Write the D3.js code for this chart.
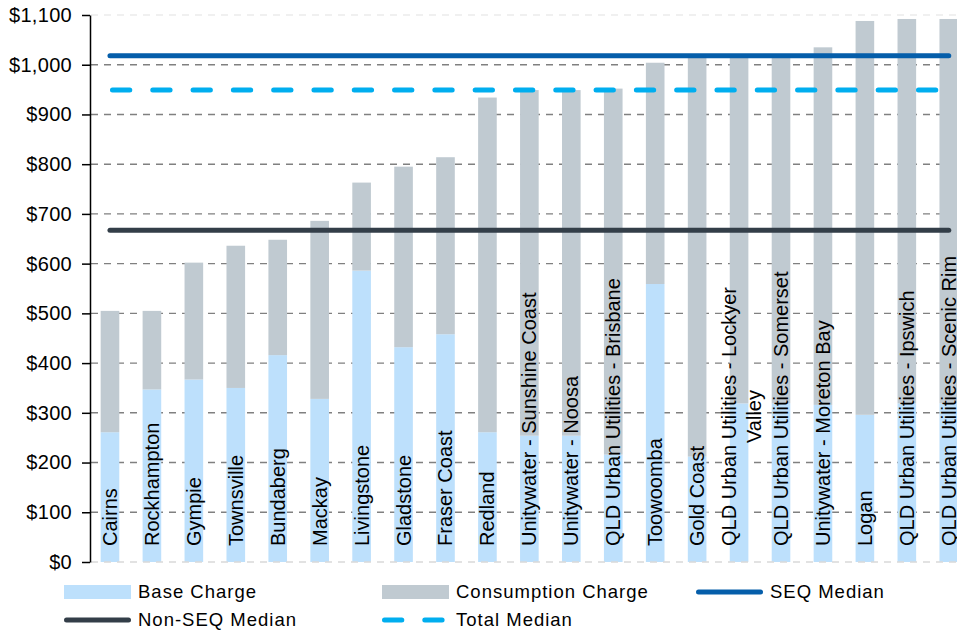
<!DOCTYPE html>
<html>
<head>
<meta charset="utf-8">
<title>Water charges by council</title>
<script src="https://d3js.org/d3.v7.min.js"></script>
<style>
  body { margin: 0; background: #fff; }
  svg { display: block; font-family: "Liberation Sans", Arial, sans-serif; }
</style>
</head>
<body>
<svg width="957" height="634"></svg>
<script>
// categories (a "\n" marks where the label wraps)
const councils = ['Cairns', 'Rockhampton', 'Gympie', 'Townsville', 'Bundaberg', 'Mackay',
  'Livingstone', 'Gladstone', 'Fraser Coast', 'Redland', 'Unitywater - Sunshine Coast',
  'Unitywater - Noosa', 'QLD Urban Utilities - Brisbane', 'Toowoomba', 'Gold Coast',
  'QLD Urban Utilities - Lockyer\nValley', 'QLD Urban Utilities - Somerset',
  'Unitywater - Moreton Bay', 'Logan', 'QLD Urban Utilities - Ipswich',
  'QLD Urban Utilities - Scenic Rim'];

// $ per year
const baseCharge = [261, 347, 367, 350, 416, 328, 586, 432, 458, 261, 254, 254, 216, 559, 212,
  319, 319, 316, 296, 319, 319];
const consumptionCharge = [244, 158, 235, 286, 232, 358, 177, 363, 356, 673, 695, 695, 736, 445,
  804, 699, 699, 719, 792, 773, 773];

const seqMedian = 1018;
const nonSeqMedian = 667;
const totalMedian = 949;

const yTicks = [0, 100, 200, 300, 400, 500, 600, 700, 800, 900, 1000, 1100];

const colors = {
  base: '#bde0fc',
  cons: '#c0cad1',
  seq: '#055eaa',
  nonSeq: '#333e48',
  total: '#00aeef'
};

const svg = d3.select('svg');

// plot area (the last band runs past the right edge, as in the original)
const left = 89, step = 41.94;
const x = d3.scaleBand()
  .domain(councils)
  .range([left, left + step * councils.length])
  .paddingInner(0.556)
  .paddingOuter(0.278);

const y = d3.scaleLinear()
  .domain([0, 1100])
  .range([562, 15]);

// gridlines
svg.append('g')
  .selectAll('line')
  .data(yTicks.filter(t => t > 0))
  .join('line')
  .attr('x1', 91).attr('x2', 957)
  .attr('y1', d => y(d)).attr('y2', d => y(d))
  .attr('stroke', d => d === 1100 ? '#ebebeb' : '#808080')
  .attr('stroke-width', 1.4)
  .attr('stroke-dasharray', '7 6');

// stacked bars
const rows = councils.map((c, i) => ({ c, base: baseCharge[i], cons: consumptionCharge[i] }));

const bars = svg.append('g');
bars.selectAll('rect.base').data(rows)
  .join('rect').attr('class', 'base')
  .attr('x', d => x(d.c)).attr('width', x.bandwidth())
  .attr('y', d => y(d.base)).attr('height', d => y(0) - y(d.base))
  .attr('fill', colors.base);
bars.selectAll('rect.cons').data(rows)
  .join('rect').attr('class', 'cons')
  .attr('x', d => x(d.c)).attr('width', x.bandwidth())
  .attr('y', d => y(d.base + d.cons)).attr('height', d => y(d.base) - y(d.base + d.cons))
  .attr('fill', colors.cons);

// light baseline at $0
svg.append('line')
  .attr('x1', 91).attr('x2', 957)
  .attr('y1', y(0)).attr('y2', y(0))
  .attr('stroke', '#d9d9d9').attr('stroke-width', 1.5)
  .attr('stroke-dasharray', '7 6');

// category labels, rotated, sitting inside the bars
const labelG = svg.append('g')
  .attr('font-size', 20)
  .attr('fill', '#000');

councils.forEach(c => {
  const lines = c.split('\n');
  const cx = x(c) + x.bandwidth() / 2;
  const lineH = 25;
  let firstLen = 0;
  lines.forEach((ln, i) => {
    const off = (i - (lines.length - 1) / 2) * lineH + (lines.length > 1 ? 2 : 0);
    const t = labelG.append('text')
      .attr('transform', `translate(${cx + off + 7},546) rotate(-90)`)
      .text(ln);
    if (i === 0) {
      t.attr('text-anchor', 'start');
      firstLen = t.node().getComputedTextLength();
    } else {
      t.attr('text-anchor', 'middle')
        .attr('x', firstLen / 2);
    }
  });
});

// median lines
const x0 = x(councils[0]) + x.bandwidth() / 2;
const x1 = x(councils[councils.length - 1]) + x.bandwidth() / 2;

svg.append('line')
  .attr('x1', x0 + 2.5).attr('x2', x1)
  .attr('y1', y(totalMedian)).attr('y2', y(totalMedian))
  .attr('stroke', colors.total).attr('stroke-width', 5)
  .attr('stroke-linecap', 'round')
  .attr('stroke-dasharray', '17.3 23');

svg.append('line')
  .attr('x1', x0).attr('x2', x1)
  .attr('y1', y(seqMedian)).attr('y2', y(seqMedian))
  .attr('stroke', colors.seq).attr('stroke-width', 5)
  .attr('stroke-linecap', 'round');

svg.append('line')
  .attr('x1', x0).attr('x2', x1)
  .attr('y1', y(nonSeqMedian)).attr('y2', y(nonSeqMedian))
  .attr('stroke', colors.nonSeq).attr('stroke-width', 5)
  .attr('stroke-linecap', 'round');

// y axis
const yAxis = d3.axisLeft(y)
  .tickValues(yTicks)
  .tickFormat(d3.format('$,'))
  .tickSize(8)
  .tickSizeOuter(0)
  .tickPadding(10);

const yAxisG = svg.append('g')
  .attr('transform', 'translate(90,0)')
  .call(yAxis);
yAxisG.select('.domain').attr('stroke', '#000').attr('stroke-width', 1.5);
yAxisG.selectAll('.tick line').attr('stroke', '#000').attr('stroke-width', 1.5);
yAxisG.selectAll('.tick text')
  .attr('font-size', 20)
  .attr('font-family', '"Liberation Sans", Arial, sans-serif')
  .attr('letter-spacing', 0.3)
  .attr('fill', '#000');

// legend
const legendItems = [
  { name: 'Base Charge', type: 'rect', color: colors.base, col: 0, row: 0 },
  { name: 'Consumption Charge', type: 'rect', color: colors.cons, col: 1, row: 0 },
  { name: 'SEQ Median', type: 'line', color: colors.seq, col: 2, row: 0 },
  { name: 'Non-SEQ Median', type: 'line', color: colors.nonSeq, col: 0, row: 1 },
  { name: 'Total Median', type: 'dash', color: colors.total, col: 1, row: 1 }
];
const legendCols = [64, 382, 696];
const legendRows = [592, 620];
const swatchW = 67;

const legend = svg.append('g');
legendItems.forEach(it => {
  const lx = legendCols[it.col], ly = legendRows[it.row];
  if (it.type === 'rect') {
    legend.append('rect')
      .attr('x', lx).attr('y', ly - 7)
      .attr('width', swatchW).attr('height', 14)
      .attr('fill', it.color);
  } else {
    legend.append('line')
      .attr('x1', lx + 2.5).attr('x2', lx + swatchW - 2.5)
      .attr('y1', ly).attr('y2', ly)
      .attr('stroke', it.color).attr('stroke-width', 5)
      .attr('stroke-linecap', 'round')
      .attr('stroke-dasharray', it.type === 'dash' ? '17.3 23' : null);
  }
  legend.append('text')
    .attr('x', lx + swatchW + 7)
    .attr('y', ly)
    .attr('dy', '0.35em')
    .attr('font-size', 18.5)
    .attr('letter-spacing', 1)
    .attr('fill', '#000')
    .text(it.name);
});
</script>
</body>
</html>
